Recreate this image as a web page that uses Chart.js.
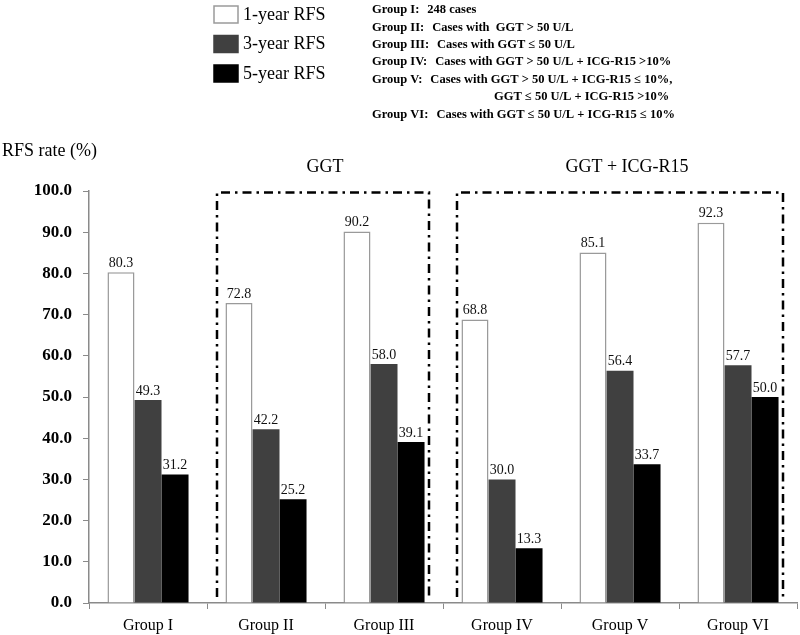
<!DOCTYPE html>
<html><head><meta charset="utf-8">
<script src="https://cdn.jsdelivr.net/npm/chart.js@4"></script>
<style>html,body{margin:0;padding:0;background:#fff}#wrap{width:800px;height:635px;position:relative}</style>
</head><body><div id="wrap"><canvas id="c" width="800" height="635"></canvas></div>
<script>
const categories = ["Group I","Group II","Group III","Group IV","Group V","Group VI"];
const seriesLabels = ["1-year RFS","3-year RFS","5-year RFS"];
const rfs1 = [80.3, 72.8, 90.2, 68.8, 85.1, 92.3];
const rfs3 = [49.3, 42.2, 58.0, 30.0, 56.4, 57.7];
const rfs5 = [31.2, 25.2, 39.1, 13.3, 33.7, 50.0];
const yTicks = [0,10,20,30,40,50,60,70,80,90,100];
const axisTitle = "RFS rate (%)";
const boxTitles = ["GGT", "GGT + ICG-R15"];
const boxRanges = [[1,2],[3,5]];
const notes = [
  ["Group I:", "248 cases"],
  ["Group II:", "Cases with  GGT > 50 U/L"],
  ["Group III:", "Cases with GGT \u2264 50 U/L"],
  ["Group IV:", "Cases with GGT > 50 U/L + ICG-R15 >10%"],
  ["Group V:", "Cases with GGT > 50 U/L + ICG-R15 \u2264 10%,"],
  ["", "GGT \u2264 50 U/L + ICG-R15 >10%"],
  ["Group VI:", "Cases with GGT \u2264 50 U/L + ICG-R15 \u2264 10%"]
];

const SERIF = '"Liberation Serif","DejaVu Serif",serif';
const fills = ["#ffffff","#404040","#000000"];
const borders = ["#9a9a9a","#404040","#000000"];

const overlay = {
  id:'overlay',
  afterDatasetsDraw(chart){
    const ctx = chart.ctx, xs = chart.scales.x, ys = chart.scales.y;
    ctx.save();
    // data labels
    ctx.fillStyle = '#111';
    ctx.font = '14px ' + SERIF;
    ctx.textAlign = 'center'; ctx.textBaseline = 'bottom';
    chart.data.datasets.forEach((ds, di) => {
      chart.getDatasetMeta(di).data.forEach((bar, i) => {
        ctx.fillText(ds.data[i].toFixed(1), bar.x, bar.y - 2);
      });
    });
    // dash-dot boxes
    const half = (xs.getPixelForValue(1) - xs.getPixelForValue(0)) / 2;
    ctx.strokeStyle = '#000'; ctx.lineWidth = 2.5;
    ctx.setLineDash([9,5,2.5,5]);
    boxRanges.forEach((r, bi) => {
      const l = xs.getPixelForValue(r[0]) - half + (bi === 0 ? 10 : 14);
      const rr = xs.getPixelForValue(r[1]) + half - 14;
      const t = ys.getPixelForValue(100) + 1.5;
      const b = ys.getPixelForValue(0) - 6;
      ctx.beginPath();
      ctx.moveTo(l, b); ctx.lineTo(l, t); ctx.lineTo(rr, t); ctx.lineTo(rr, b);
      ctx.stroke();
      // title
      ctx.save();
      ctx.setLineDash([]);
      ctx.fillStyle = '#000';
      ctx.font = '18px ' + SERIF;
      ctx.textAlign = 'center'; ctx.textBaseline = 'middle';
      const cx = (xs.getPixelForValue(r[0]) + xs.getPixelForValue(r[1])) / 2 + (bi === 1 ? 7 : 0);
      ctx.fillText(boxTitles[bi], cx, t - 25);
      ctx.restore();
    });
    ctx.setLineDash([]);
    // axis title
    ctx.fillStyle = '#000';
    ctx.font = '18px ' + SERIF;
    ctx.textAlign = 'left'; ctx.textBaseline = 'middle';
    ctx.fillText(axisTitle, 2, 151);
    // legend
    chart.data.datasets.forEach((ds, i) => {
      const y = 6 + i * 29.5;
      ctx.fillStyle = ds.backgroundColor;
      ctx.fillRect(214, y, 24, 17);
      ctx.strokeStyle = ds.borderColor; ctx.lineWidth = 1.5;
      ctx.strokeRect(214, y, 24, 17);
      ctx.fillStyle = '#000';
      ctx.font = '18px ' + SERIF;
      ctx.textAlign = 'left'; ctx.textBaseline = 'middle';
      ctx.fillText(ds.label, 243, y + 9);
    });
    // notes
    ctx.font = 'bold 12.5px ' + SERIF;
    ctx.textBaseline = 'middle';
    notes.forEach((n, i) => {
      const y = 10 + i * 17.4;
      ctx.fillText(n[0], 372, y);
      const x2 = n[0] === "" ? 494 : ctx.measureText(n[0]).width + 372 + 8;
      ctx.fillText(n[1], x2, y);
    });
    ctx.restore();
  }
};

new Chart(document.getElementById('c'), {
  type: 'bar',
  data: {
    labels: categories,
    datasets: [rfs1, rfs3, rfs5].map((d, i) => ({
      label: seriesLabels[i], data: d,
      backgroundColor: fills[i], borderColor: borders[i],
      borderWidth: i === 0 ? 1.5 : 0,
      categoryPercentage: 0.687, barPercentage: 1.0
    }))
  },
  options: {
    responsive: false, animation: false,
    layout: { padding: { top: 191, right: 3, left: 0, bottom: 0 } },
    plugins: { legend: { display: false }, tooltip: { enabled: false } },
    scales: {
      x: {
        afterFit(s){ s.height = 32; },
        grid: { display: true, drawOnChartArea: false, drawTicks: true, tickLength: 6, color: '#8a8a8a', offset: true },
        border: { color: '#8a8a8a', width: 1.5 },
        ticks: { color: '#000', font: { family: SERIF, size: 16 }, padding: 7 }
      },
      y: {
        min: 0, max: 100,
        afterFit(s){ s.width = 89; },
        afterBuildTicks(s){ s.ticks = yTicks.map(v => ({ value: v })); },
        grid: { display: true, drawOnChartArea: false, drawTicks: true, tickLength: 6, color: '#8a8a8a' },
        border: { color: '#8a8a8a', width: 1.5 },
        ticks: { color: '#000', font: { family: SERIF, size: 17, weight: 'bold' }, padding: 11,
          callback: v => Number(v).toFixed(1) }
      }
    }
  },
  plugins: [overlay]
});
</script></body></html>
